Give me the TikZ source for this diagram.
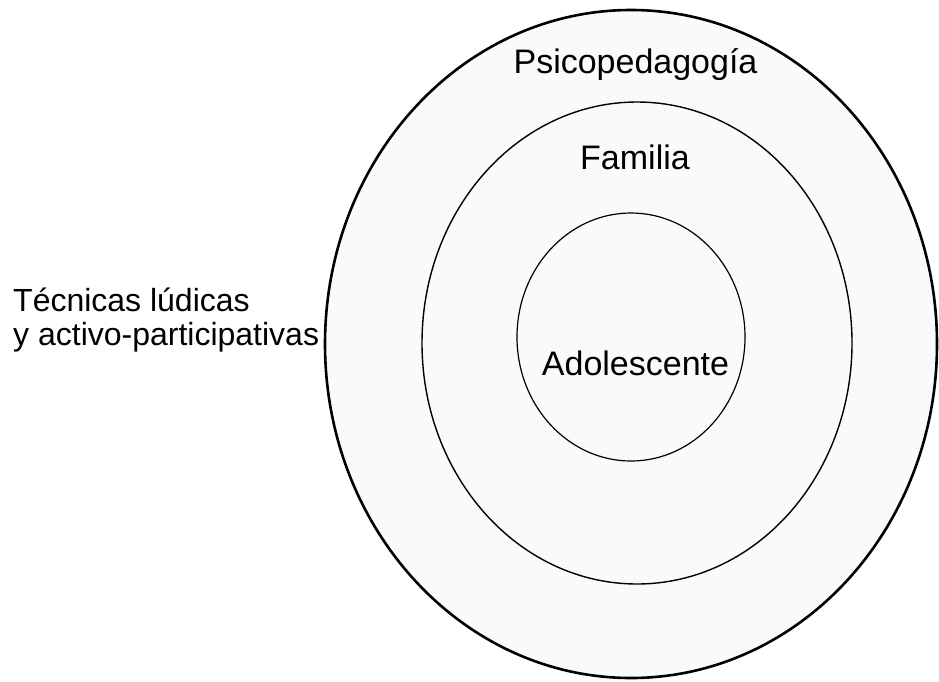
\documentclass[tikz,border=0pt]{standalone}
\usepackage{fontspec}
\setmainfont{Liberation Sans}
\usetikzlibrary{shapes.geometric}
\begin{document}
\begin{tikzpicture}[x=1pt,y=-1pt,
  ring/.style={ellipse,draw=black,fill=gray!4,inner sep=0pt},
  lbl/.style={font=\fontsize{34}{40}\selectfont,inner sep=0pt,anchor=base},
  side/.style={font=\fontsize{32}{36}\selectfont,inner sep=0pt,anchor=base west}]
\useasboundingbox (0,0) rectangle (939,681);
\node[ring,line width=2.6pt,minimum width=612pt,minimum height=668pt] (outer) at (631,344) {};
\node[ring,line width=1.4pt,minimum width=430pt,minimum height=482pt] (middle) at (637,343) {};
\node[ring,line width=1.2pt,minimum width=228pt,minimum height=248pt] (inner) at (631,337) {};
\node[lbl] (psico) at (635.5,73) {Psicopedagogía};
\node[lbl] (fam) at (635,169) {Familia};
\node[lbl] (ado) at (635.5,375) {Adolescente};
\node[side] (tec1) at (13,311) {Técnicas lúdicas};
\node[side] (tec2) at (13,345) {y activo-participativas};
\end{tikzpicture}
\end{document}
